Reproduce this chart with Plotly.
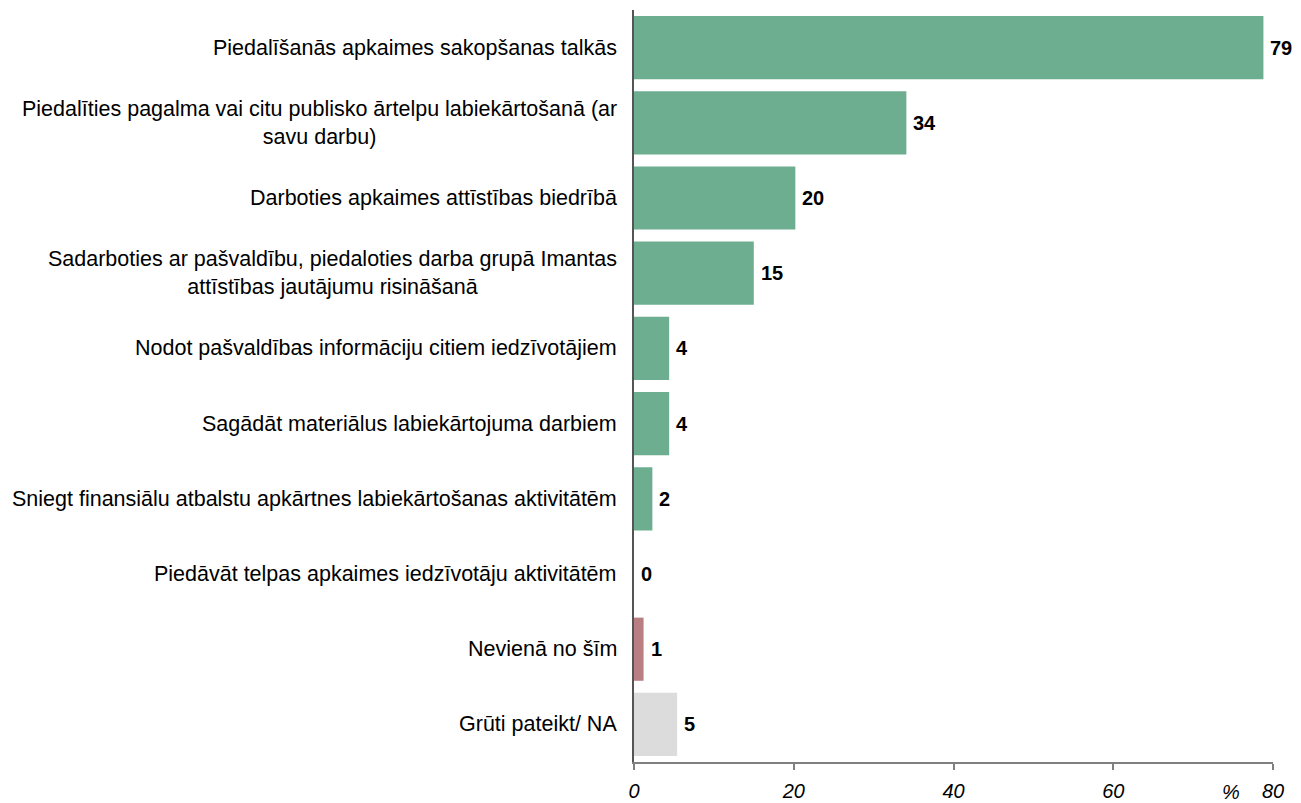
import plotly.graph_objects as go

categories = [
    "Piedalīšanās apkaimes sakopšanas talkās",
    "Piedalīties pagalma vai citu publisko ārtelpu labiekārtošanā (ar<br>savu darbu)",
    "Darboties apkaimes attīstības biedrībā",
    "Sadarboties ar pašvaldību, piedaloties darba grupā Imantas<br>attīstības jautājumu risināšanā",
    "Nodot pašvaldības informāciju citiem iedzīvotājiem",
    "Sagādāt materiālus labiekārtojuma darbiem",
    "Sniegt finansiālu atbalstu apkārtnes labiekārtošanas aktivitātēm",
    "Piedāvāt telpas apkaimes iedzīvotāju aktivitātēm",
    "Nevienā no šīm",
    "Grūti pateikt/ NA",
]
values = [78.8, 34.1, 20.2, 15.0, 4.4, 4.4, 2.3, 0.0, 1.2, 5.4]
labels = ["79", "34", "20", "15", "4", "4", "2", "0", "1", "5"]
colors = ["#6EAE90"] * 8 + ["#B97E82", "#DCDCDC"]
x_ticks = [0, 20, 40, 60, 80]

font_family = "Liberation Sans, Arial, sans-serif"

fig = go.Figure()
fig.add_trace(go.Bar(
    x=values,
    y=list(range(len(categories))),
    orientation="h",
    marker=dict(color=colors, line=dict(width=0)),
    hoverinfo="skip",
))

annotations = []
for i, (v, lab) in enumerate(zip(values, labels)):
    annotations.append(dict(
        x=v, y=i, xref="x", yref="y", text="<b>%s</b>" % lab,
        showarrow=False, xanchor="left", yanchor="middle", xshift=5,
        font=dict(size=20, color="#000000", family=font_family),
    ))
for i, cat in enumerate(categories):
    annotations.append(dict(
        x=0, y=i, xref="paper", yref="y", text=cat,
        showarrow=False, xanchor="right", yanchor="middle", align="center",
        xshift=-15,
        font=dict(size=21.5, color="#000000", family=font_family),
    ))
annotations.append(dict(
    x=74.7, y=0, xref="x", yref="paper", text="<i>%</i>",
    showarrow=False, xanchor="center", yanchor="middle", yshift=-30,
    font=dict(size=20, color="#000000", family=font_family),
))

fig.update_layout(
    width=1293, height=795,
    margin=dict(l=626, r=28, t=2, b=41, autoexpand=False),
    paper_bgcolor="white", plot_bgcolor="white",
    bargap=0.16,
    showlegend=False,
    annotations=annotations,
    font=dict(family=font_family, size=16, color="#000000"),
    xaxis=dict(
        range=[0, 80], tickvals=x_ticks,
        ticktext=["<i>%d</i>" % t for t in x_ticks],
        showgrid=False, zeroline=False, automargin=False,
        showline=True, linecolor="#808080", linewidth=1.5,
        ticks="outside", ticklen=6, tickcolor="#808080", tickwidth=1.5,
        ticklabelstandoff=4,
        tickfont=dict(size=20, color="#000000", family=font_family),
        fixedrange=True,
    ),
    yaxis=dict(
        range=[len(categories) - 0.5, -0.5],
        showticklabels=False, showgrid=False, zeroline=False, automargin=False,
        showline=True, linecolor="#555555", linewidth=1.5,
        ticks="", fixedrange=True,
    ),
)

fig.write_html("out.html")
